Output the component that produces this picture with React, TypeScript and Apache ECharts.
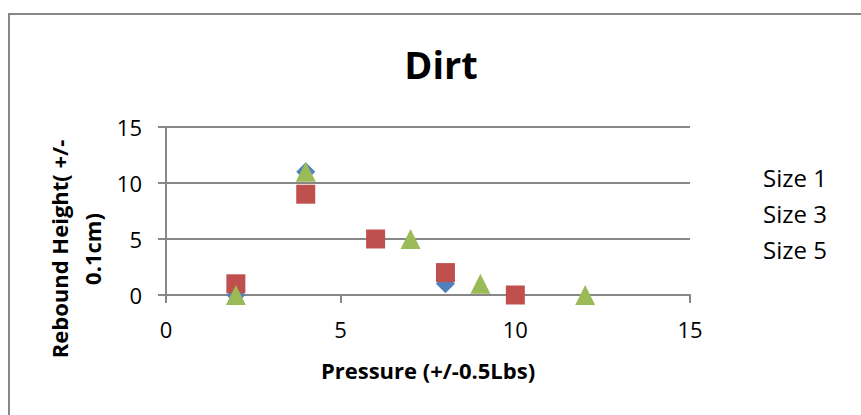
import React, { useEffect, useRef } from "react";
import * as echarts from "echarts";

const chartTitle = "Dirt";
const xAxisName = "Pressure (+/-0.5Lbs)";
const yAxisName = "Rebound Height( +/-\n0.1cm)";
const seriesNames = ["Size 1", "Size 3", "Size 5"];
const size1Points: [number, number][] = [[2, 0], [4, 11], [8, 1]];
const size3Points: [number, number][] = [[2, 1], [4, 9], [6, 5], [8, 2], [10, 0]];
const size5Points: [number, number][] = [[2, 0], [4, 11], [7, 5], [9, 1], [12, 0]];
const xRange = { min: 0, max: 15, interval: 5 };
const yRange = { min: 0, max: 15, interval: 5 };

const FONT = '"Open Sans", "Liberation Sans", sans-serif';
const GRAY = "#878787";

export default function App() {
  const ref = useRef<HTMLDivElement>(null);
  useEffect(() => {
    document.body.style.margin = "0";
    if (!ref.current) return;
    const chart = echarts.init(ref.current, undefined, { renderer: "svg" });
    const axisCommon = {
      axisLine: { show: true, lineStyle: { color: GRAY, width: 2 } },
      axisTick: { show: true, length: 8, inside: false, lineStyle: { color: GRAY, width: 2 } },
      axisLabel: { color: "#000", fontFamily: FONT, fontSize: 22 },
    };
    chart.setOption({
      animation: false,
      backgroundColor: "#fff",
      title: {
        text: chartTitle,
        left: 441,
        top: 45,
        textAlign: "center",
        padding: 0,
        textStyle: { fontFamily: FONT, fontWeight: "bold", fontSize: 38, lineHeight: 38, color: "#000" },
      },
      legend: {
        data: seriesNames,
        orient: "vertical",
        left: 758,
        top: 165,
        padding: 0,
        itemWidth: 0,
        itemHeight: 24,
        itemGap: 12,
        itemStyle: { opacity: 0 },
        textStyle: { fontFamily: FONT, fontSize: 24, lineHeight: 24, color: "#000" },
      },
      grid: { left: 166, right: 171, top: 127, bottom: 120, containLabel: false },
      xAxis: {
        type: "value",
        ...xRange,
        ...axisCommon,
        axisLabel: { ...axisCommon.axisLabel, margin: 23 },
        splitLine: { show: false },
        name: xAxisName,
        nameLocation: "middle",
        nameGap: 64,
        nameTextStyle: { fontFamily: FONT, fontWeight: "bold", fontSize: 22, color: "#000" },
      },
      yAxis: {
        type: "value",
        ...yRange,
        ...axisCommon,
        axisLabel: { ...axisCommon.axisLabel, margin: 24 },
        splitLine: { show: true, lineStyle: { color: GRAY, width: 2 } },
      },
      graphic: [
        {
          type: "rect",
          silent: true,
          z: -10,
          shape: { x: 9, y: 14, width: 900, height: 450 },
          style: { fill: "none", stroke: GRAY, lineWidth: 2 },
        },
        {
          type: "text",
          x: 75,
          y: 249,
          rotation: Math.PI / 2,
          style: {
            text: yAxisName,
            fontFamily: FONT,
            fontWeight: "bold",
            fontSize: 22,
            lineHeight: 33,
            align: "center",
            verticalAlign: "middle",
            fill: "#000",
          },
        },
      ],
      series: [
        {
          name: seriesNames[0],
          type: "scatter",
          data: size1Points,
          symbol: "diamond",
          symbolSize: 19,
          clip: false,
          itemStyle: { color: "#4F81BD", opacity: 1 },
        },
        {
          name: seriesNames[1],
          type: "scatter",
          data: size3Points,
          symbol: "rect",
          symbolSize: 19,
          clip: false,
          itemStyle: { color: "#C0504D", opacity: 1 },
        },
        {
          name: seriesNames[2],
          type: "scatter",
          data: size5Points,
          symbol: "triangle",
          symbolSize: 20,
          clip: false,
          itemStyle: { color: "#9BBB59", opacity: 1 },
        },
      ],
    });
    return () => chart.dispose();
  }, []);
  return <div ref={ref} style={{ width: 861, height: 415 }} />;
}
